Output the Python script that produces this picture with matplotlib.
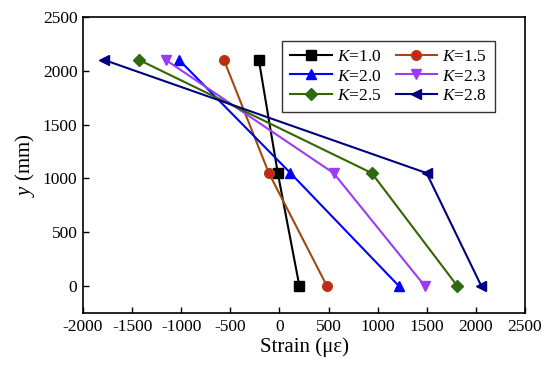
import matplotlib
matplotlib.use("Agg")
import matplotlib.pyplot as plt

plt.rcParams['font.family'] = ['Liberation Serif', 'DejaVu Serif']
plt.rcParams['mathtext.fontset'] = 'custom'
plt.rcParams['mathtext.rm'] = 'Liberation Serif'
plt.rcParams['mathtext.it'] = 'Liberation Serif:italic'
plt.rcParams['axes.unicode_minus'] = False

y_levels = [0, 1050, 2100]
labels = ["1.0", "1.5", "2.0", "2.3", "2.5", "2.8"]
strain_k10 = [203, -17, -210]
strain_k15 = [484, -108, -565]
strain_k20 = [1217, 112, -1021]
strain_k23 = [1481, 551, -1156]
strain_k25 = [1812, 940, -1427]
strain_k28 = [2056, 1498, -1782]

series = [strain_k10, strain_k15, strain_k20, strain_k23, strain_k25, strain_k28]
styles = [
    dict(marker='s', color='black', mfc='black', mec='black'),
    dict(marker='o', color='#a04a10', mfc='#c8261a', mec='#a04a10'),
    dict(marker='^', color='#0000ff', mfc='#0000ff', mec='#0000ff'),
    dict(marker='v', color='#9a3cf5', mfc='#9a3cf5', mec='#9a3cf5'),
    dict(marker='D', color='#336600', mfc='#2f6a10', mec='#2f6a10'),
    dict(marker='<', color='#000080', mfc='#000080', mec='#000080'),
]

fig = plt.figure(figsize=(5.5, 3.75), dpi=100)
ax = fig.add_axes([0.151, 0.1653, 0.8035, 0.7894])
handles = []
for lab, s, st in zip(labels, series, styles):
    ms = 6 if st['marker'] == 'D' else 7
    h, = ax.plot(s, y_levels, lw=1.5, ms=ms, label=f"$K$={lab}", **st)
    handles.append(h)

ax.set_xlim(-2000, 2500)
ax.set_ylim(-250, 2500)
ax.set_xticks(range(-2000, 2501, 500))
ax.set_yticks(range(0, 2501, 500))
ax.tick_params(direction='in', labelsize=12.5, length=4, width=1, pad=4)
for sp in ax.spines.values():
    sp.set_linewidth(1.2)
ax.set_xlabel("Strain (με)", fontsize=15, labelpad=2)
ax.set_ylabel("$y$ (mm)", fontsize=15, labelpad=4)
order = [0, 2, 4, 1, 3, 5]
leg = ax.legend([handles[i] for i in order], [handles[i].get_label() for i in order],
                ncol=2, loc='upper right', bbox_to_anchor=(0.932, 0.919), borderaxespad=0,
                fontsize=12.5,
                frameon=True, fancybox=False, edgecolor='black', handlelength=2.4,
                columnspacing=0.8, handletextpad=0.3, labelspacing=0.2, borderpad=0.45)
leg.get_frame().set_linewidth(1.0)
fig.savefig("out.png", dpi=100)
